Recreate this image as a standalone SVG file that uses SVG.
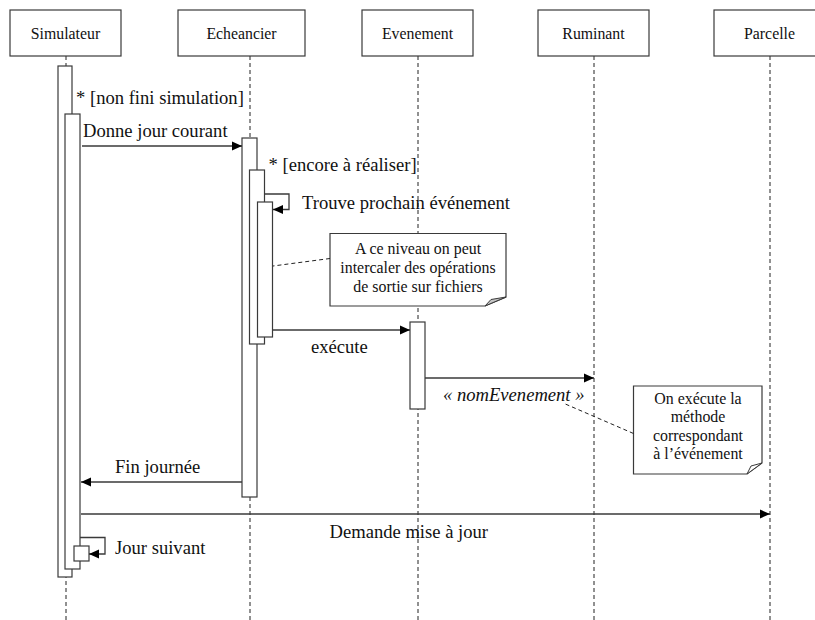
<svg xmlns="http://www.w3.org/2000/svg" width="815" height="620" viewBox="0 0 815 620">
  <defs>
    <marker id="arrow" markerWidth="10" markerHeight="10" refX="10" refY="5" orient="auto" markerUnits="userSpaceOnUse">
      <path d="M0,0.5 L10,5 L0,9.5 Z" fill="#000"/>
    </marker>
    <style>
      .box { fill: #fff; stroke: #3a3a3a; stroke-width: 1.2; }
      .life { fill: none; stroke: #222; stroke-width: 1; stroke-dasharray: 4,3; }
      .act { fill: #fff; stroke: #3a3a3a; stroke-width: 1.2; }
      .msg { fill: none; stroke: #3a3a3a; stroke-width: 1.3; }
      .anchor { fill: none; stroke: #222; stroke-width: 1; stroke-dasharray: 4,3; }
      .note { fill: #fff; stroke: #3a3a3a; stroke-width: 1.2; }
      text { font-family: 'Liberation Serif', 'Times New Roman', serif; fill: #111; }
      .name { font-size: 15.8px; text-anchor: middle; }
      .lbl { font-size: 18.6px; }
      .ntxt { font-size: 15.9px; text-anchor: middle; }
    </style>
  </defs>
  <rect width="815" height="620" fill="#fff"/>

  <!-- lifelines -->
  <g id="lifelines">
    <line class="life" x1="66" y1="56" x2="66" y2="620"/>
    <line class="life" x1="250" y1="56" x2="250" y2="620"/>
    <line class="life" x1="418" y1="56" x2="418" y2="620"/>
    <line class="life" x1="594" y1="56" x2="594" y2="620"/>
    <line class="life" x1="770" y1="56" x2="770" y2="620"/>
  </g>

  <!-- participants -->
  <g id="simulateur">
    <rect class="box" x="10" y="10" width="111" height="46"/>
    <text class="name" x="65.5" y="38.5">Simulateur</text>
    <rect class="act" x="58" y="66" width="14" height="511"/>
    <rect class="act" x="65" y="114" width="15" height="455"/>
    <rect class="act" x="74" y="546" width="15" height="15"/>
  </g>
  <g id="echeancier">
    <rect class="box" x="178" y="10" width="127" height="46"/>
    <text class="name" x="241.5" y="38.5">Echeancier</text>
    <rect class="act" x="242" y="138" width="15" height="359"/>
    <rect class="act" x="249.5" y="170" width="15" height="174"/>
    <rect class="act" x="257.5" y="202" width="15" height="135"/>
  </g>
  <g id="evenement">
    <rect class="box" x="362" y="10" width="111" height="46"/>
    <text class="name" x="417.5" y="38.5">Evenement</text>
    <rect class="act" x="410" y="322" width="15" height="87"/>
  </g>
  <g id="ruminant">
    <rect class="box" x="538" y="10" width="111" height="46"/>
    <text class="name" x="593.5" y="38.5">Ruminant</text>
  </g>
  <g id="parcelle">
    <rect class="box" x="714" y="10" width="111" height="46"/>
    <text class="name" x="769.5" y="38.5">Parcelle</text>
  </g>

  <!-- notes -->
  <g id="note-sortie">
    <path class="note" d="M330,233.5 H506 V297 L485,306 H330 Z"/>
    <path d="M506,297 L485,306 L491,299.5 Z" fill="#c4c4c4" stroke="#3a3a3a" stroke-width="1"/>
    <text class="ntxt" x="418" y="254">A ce niveau on peut</text>
    <text class="ntxt" x="418" y="273">intercaler des opérations</text>
    <text class="ntxt" x="418" y="292">de sortie sur fichiers</text>
  </g>
  <g id="note-methode">
    <path class="note" d="M633.5,386 H762 V463 L747,474 H633.5 Z"/>
    <path d="M762,463 L747,474 L751,466 Z" fill="#fff" stroke="#3a3a3a" stroke-width="1"/>
    <text class="ntxt" x="698" y="403.5">On exécute la</text>
    <text class="ntxt" x="698" y="422">méthode</text>
    <text class="ntxt" x="698" y="440.5">correspondant</text>
    <text class="ntxt" x="698" y="459">à l’événement</text>
  </g>

  <!-- messages and note anchors -->
  <g id="connectors">
    <line class="msg" x1="82" y1="146" x2="242" y2="146" marker-end="url(#arrow)"/>
    <path class="msg" d="M264.5,194 H289 V209.5 H273" marker-end="url(#arrow)"/>
    <line class="msg" x1="273" y1="330" x2="410" y2="330" marker-end="url(#arrow)"/>
    <line class="msg" x1="425" y1="378" x2="594" y2="378" marker-end="url(#arrow)"/>
    <line class="msg" x1="242" y1="482" x2="81" y2="482" marker-end="url(#arrow)"/>
    <line class="msg" x1="81" y1="514" x2="770" y2="514" marker-end="url(#arrow)"/>
    <path class="msg" d="M80,537.5 H105 V554 H89" marker-end="url(#arrow)"/>
    <line class="anchor" x1="330" y1="258.5" x2="273" y2="266"/>
    <line class="anchor" x1="633.5" y1="433.5" x2="563" y2="403"/>
  </g>

  <!-- message labels -->
  <g id="labels">
    <text class="lbl" x="76" y="104">* [non fini simulation]</text>
    <text class="lbl" x="83" y="137">Donne jour courant</text>
    <text class="lbl" x="268.5" y="170.5">* [encore à réaliser]</text>
    <text class="lbl" x="302" y="208.5">Trouve prochain événement</text>
    <text class="lbl" x="311" y="353">exécute</text>
    <text class="lbl" x="443" y="401" font-style="italic">« nomEvenement »</text>
    <text class="lbl" x="115" y="473">Fin journée</text>
    <text class="lbl" x="329.5" y="537.5">Demande mise à jour</text>
    <text class="lbl" x="115" y="553.5">Jour suivant</text>
  </g>
</svg>
